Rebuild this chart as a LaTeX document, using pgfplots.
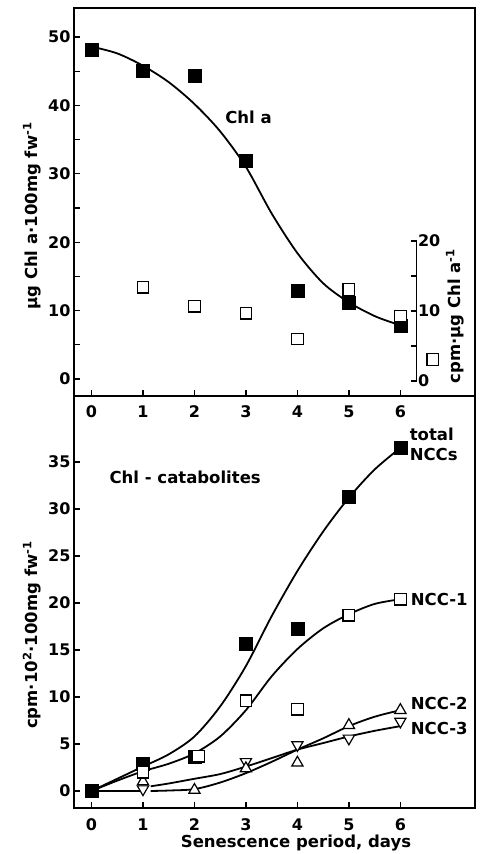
\documentclass[border=0pt]{standalone}
\usepackage{fontspec}
\setmainfont{DejaVu Sans}
\usepackage{pgfplots}
\pgfplotsset{compat=1.18}
\pgfplotsset{
  myax/.style={scale only axis, anchor=south west, width=401pt,
    xmin=-0.34, xmax=7.45, xtick={0,...,6}, xtick pos=bottom, ytick pos=left,
    tick align=inside, major tick length=6pt, minor tick length=6pt,
    axis line style={line width=1.6pt},
    tick style={black, line width=1.3pt},
    ticklabel style={font=\fontsize{16}{16}\selectfont\bfseries},
    /pgf/number format/assume math mode=true, clip=false},
  crv/.style={line width=1.8pt, smooth, black, no marks},
}
\newcommand{\lbl}{\fontsize{16.5}{20}\selectfont\bfseries}
\begin{document}
\begin{tikzpicture}[x=1pt,y=1pt]
\path[use as bounding box] (0pt,0pt) rectangle (480pt,-854pt);
% ---------------- top panel
\begin{axis}[myax, at={(74pt,-396pt)}, height=388pt, ymin=-2.49, ymax=54.24,
  ytick={0,10,...,50}, minor ytick={5,15,...,45},
  xticklabel style={yshift=-6pt}]
\addplot[crv] coordinates {(0,48.6)(0.5,47.6)(1,45.8)(1.5,43.4)(2,40.2)(2.5,36.2)(3,31.0)(3.5,24.2)(4,18.4)(4.5,14.0)(5,11.2)(5.5,9.2)(5.9,8.1)};
\addplot[only marks, mark=square*, mark size=6.5pt, black] coordinates {(0,48.2)(1,45.0)(2,44.3)(3,31.9)(4,12.9)(5,11.2)(6,7.8)};
\node[font=\lbl] at (axis cs:3.05,38.3) {Chl a};
\end{axis}
% right-hand scale (cpm per ug Chl a)
\begin{axis}[scale only axis, anchor=south west, width=401pt, height=388pt,
  at={(74pt,-396pt)}, xmin=-0.34, xmax=7.45, ymin=-2.14, ymax=53.3,
  hide axis, clip=false]
\draw[line width=1.3pt] (axis cs:6.32,0) -- (axis cs:6.32,20);
\draw[line width=1.2pt] (axis cs:6.32,0) -- ++(-6pt,0pt);
\draw[line width=1.2pt] (axis cs:6.32,5) -- ++(-6pt,0pt);
\draw[line width=1.2pt] (axis cs:6.32,10) -- ++(-6pt,0pt);
\draw[line width=1.2pt] (axis cs:6.32,15) -- ++(-6pt,0pt);
\draw[line width=1.2pt] (axis cs:6.32,20) -- ++(-6pt,0pt);
\node[anchor=west, inner sep=1pt, font=\fontsize{16}{16}\selectfont\bfseries] at (axis cs:6.32,0) {0};
\node[anchor=west, inner sep=1pt, font=\fontsize{16}{16}\selectfont\bfseries] at (axis cs:6.32,10) {10};
\node[anchor=west, inner sep=1pt, font=\fontsize{16}{16}\selectfont\bfseries] at (axis cs:6.32,20) {20};
\addplot[only marks, mark=square*, mark size=5.8pt, mark options={fill=white, draw=black, line width=1.2pt}] coordinates {(1,13.4)(2,10.7)(3,9.7)(4,6.0)(5,13.1)(6,9.3)};
\addplot[only marks, mark=square*, mark size=5.8pt, mark options={fill=white, draw=black, line width=1.2pt}] coordinates {(6.63,3.1)};
\end{axis}
% ---------------- bottom panel
\begin{axis}[myax, at={(74pt,-808pt)}, height=412pt, ymin=-1.81, ymax=42.02,
  ytick={0,5,...,35}, xticklabel style={yshift=-7pt}]
% NCC-3
\addplot[crv, sharp plot] coordinates {(0,0)(1,0)};
\addplot[crv] coordinates {(1.15,0.5)(1.5,0.8)(2,1.3)(2.5,1.8)(3,2.6)(3.5,3.5)(4,4.4)(4.5,5.1)(5,5.8)(5.5,6.4)(6,6.9)};
% NCC-2
\addplot[crv] coordinates {(1.15,0)(1.5,0.05)(2,0.2)(2.5,0.9)(3,1.9)(3.5,3.1)(4,4.4)(4.5,5.6)(5,6.9)(5.5,7.9)(6,8.6)};
% NCC-1
\addplot[crv] coordinates {(0,0)(0.5,1.1)(1,2.1)(1.5,2.9)(2,4.0)(2.5,5.8)(3,8.6)(3.5,12.2)(4,15.1)(4.5,17.3)(5,18.8)(5.5,19.9)(6,20.4)};
% total
\addplot[crv] coordinates {(0,0)(0.5,1.3)(1,2.6)(1.5,3.9)(2,5.8)(2.5,9.0)(3,13.3)(3.5,18.6)(4,23.4)(4.5,27.6)(5,31.2)(5.5,34.2)(6,36.5)};
% markers
\addplot[only marks, mark=triangle*, mark size=6.5pt, mark options={rotate=180, fill=white, draw=black, line width=1.2pt}] coordinates {(1,0.2)(3,3.1)(4,4.9)(5,5.6)(6,7.4)};
\addplot[only marks, mark=triangle*, mark size=6.5pt, mark options={fill=white, draw=black, line width=1.2pt}] coordinates {(1,1.0)(2,0.1)(3,2.4)(4,3.0)(5,7.0)(6,8.6)};
\addplot[only marks, mark=square*, mark size=6.5pt, black] coordinates {(0,0)(1,2.9)(2,3.6)(3,15.7)(4,17.3)(5,31.3)(6,36.5)};
\addplot[only marks, mark=square*, mark size=5.8pt, mark options={fill=white, draw=black, line width=1.2pt}] coordinates {(1,2.0)(2.08,3.7)(3,9.6)(4,8.7)(5,18.7)(6,20.4)};
\node[font=\lbl] at (axis cs:1.82,33.4) {Chl - catabolites};
\node[font=\lbl, anchor=west, align=left, inner sep=0pt] at (axis cs:6.18,36.85) {total\\NCCs};
\node[font=\lbl, anchor=west, inner sep=0pt] at (axis cs:6.2,20.4) {NCC-1};
\node[font=\lbl, anchor=west, inner sep=0pt] at (axis cs:6.2,9.3) {NCC-2};
\node[font=\lbl, anchor=west, inner sep=0pt] at (axis cs:6.2,6.7) {NCC-3};
\end{axis}
% axis titles
\node[rotate=90, font=\lbl] at (32pt,-216pt) {µg Chl a·100mg fw\textsuperscript{-1}};
\node[rotate=90, font=\lbl] at (32pt,-635pt) {cpm·10\textsuperscript{2}·100mg fw\textsuperscript{-1}};
\node[rotate=90, font=\lbl] at (455pt,-316pt) {cpm·µg Chl a\textsuperscript{-1}};
\node[font=\lbl] at (296pt,-843pt) {Senescence period, days};
\end{tikzpicture}
\end{document}
